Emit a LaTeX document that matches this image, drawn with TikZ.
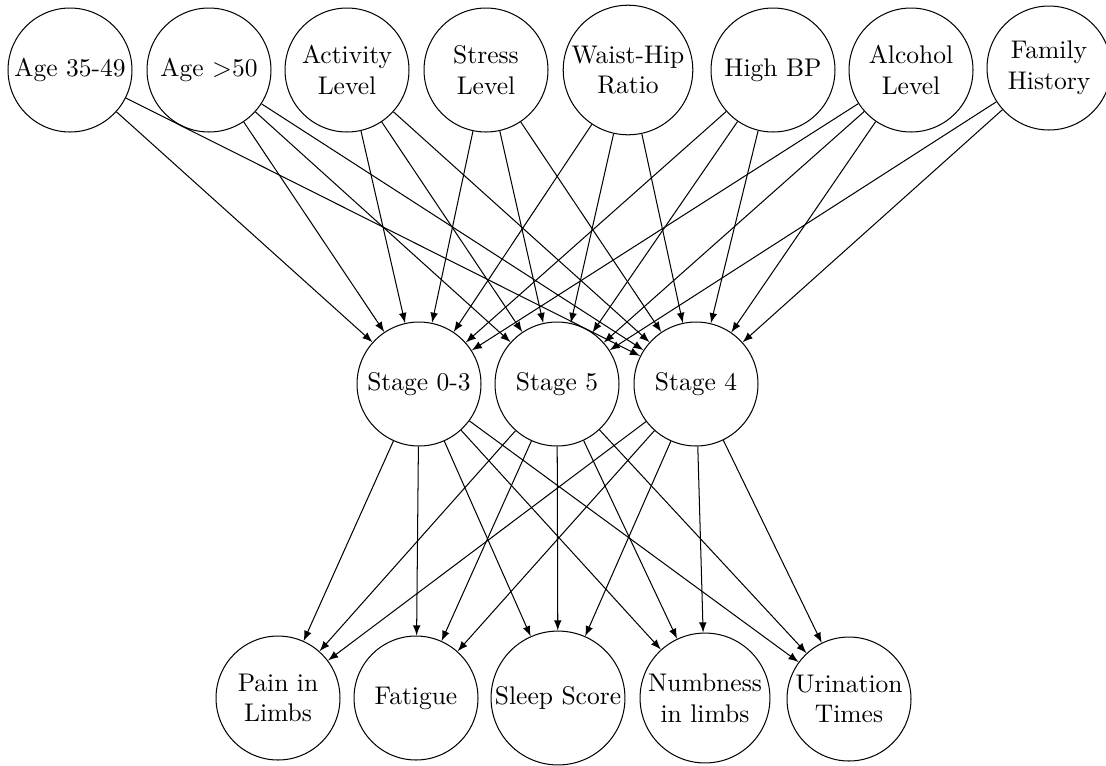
\documentclass[tikz,border=0pt]{standalone}
\begin{document}
\begin{tikzpicture}[x=0.392pt,y=-0.392pt,
  var/.style={circle,draw,minimum size=48.6pt,inner sep=1pt,align=center},
  arr/.style={-latex,line width=0.4pt}]
\useasboundingbox (0,0) rectangle (1106,765);
% top row
\node[var] (a1)  at (70,70)   {Age 35-49};
\node[var] (a2)  at (209,70)  {Age $>$50};
\node[var] (act) at (347,70)  {Activity\\Level};
\node[var] (str) at (486,70)  {Stress\\Level};
\node[var] (wh)  at (628,70)  {Waist-Hip\\Ratio};
\node[var] (bp)  at (773,70)  {High BP};
\node[var] (alc) at (911,70)  {Alcohol\\Level};
\node[var] (fh)  at (1049,68) {Family\\History};
% middle row
\node[var] (s03) at (419,384) {Stage 0-3};
\node[var] (s5)  at (557,384) {Stage 5};
\node[var] (s4)  at (696,384) {Stage 4};
% bottom row
\node[var] (pain) at (278,698) {Pain in\\Limbs};
\node[var] (fat)  at (416,698) {Fatigue};
\node[var] (slp)  at (558,698) {Sleep Score};
\node[var] (num)  at (705,698) {Numbness\\in limbs};
\node[var] (uri)  at (849,699) {Urination\\Times};
% risk factors -> stages
\foreach \t in {a1,a2,act,str,wh,bp,alc} \draw[arr] (\t) -- (s03);
\foreach \t in {a2,act,str,wh,bp,alc,fh} \draw[arr] (\t) -- (s5);
\foreach \t in {a1,a2,act,str,wh,bp,alc,fh} \draw[arr] (\t) -- (s4);
% stages -> symptoms
\foreach \s in {s03,s5,s4}
  \foreach \b in {pain,fat,slp,num,uri}
    \draw[arr] (\s) -- (\b);
\end{tikzpicture}
\end{document}
